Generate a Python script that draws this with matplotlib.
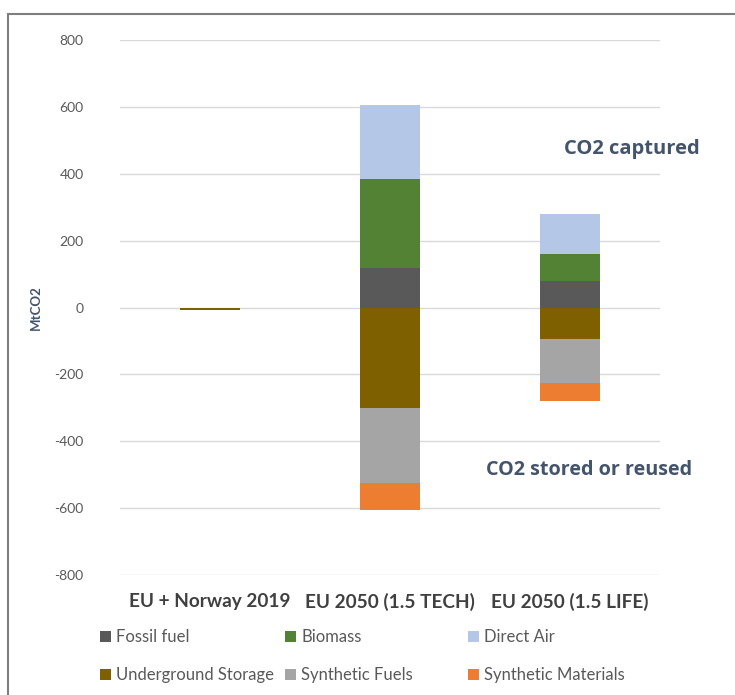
import numpy as np
from matplotlib import pyplot as plt
from matplotlib.patches import Rectangle, Patch

plt.rcParams['font.family'] = ['Lato', 'DejaVu Sans']
plt.rcParams['axes.unicode_minus'] = False

# Data (MtCO2)
scenarios = ["EU + Norway 2019", "EU 2050 (1.5 TECH)", "EU 2050 (1.5 LIFE)"]

# captured (positive)
fossil_fuel = [0, 118, 79]
biomass = [0, 265, 82]
direct_air = [0, 222, 118]

# stored or reused (negative)
underground_storage = [-8, -300, -94]
synthetic_fuels = [0, -224, -133]
synthetic_materials = [0, -83, -54]

colors = {
    "Fossil fuel": "#595959",
    "Biomass": "#548235",
    "Direct Air": "#B4C7E7",
    "Underground Storage": "#7F6000",
    "Synthetic Fuels": "#A5A5A5",
    "Synthetic Materials": "#ED7D31",
}

x = np.arange(len(scenarios))
bar_width = 0.333

fig = plt.figure(figsize=(7.35, 6.95), dpi=100)
ax = fig.add_axes([0.163, 0.1727, 0.735, 0.7697])

# positive stack
bottom = np.zeros(len(x))
for name, vals in [("Fossil fuel", fossil_fuel), ("Biomass", biomass), ("Direct Air", direct_air)]:
    ax.bar(x, vals, bar_width, bottom=bottom, color=colors[name], zorder=2)
    bottom += np.array(vals)

# negative stack
bottom = np.zeros(len(x))
for name, vals in [("Underground Storage", underground_storage),
                   ("Synthetic Fuels", synthetic_fuels),
                   ("Synthetic Materials", synthetic_materials)]:
    ax.bar(x, vals, bar_width, bottom=bottom, color=colors[name], zorder=2)
    bottom += np.array(vals)

ax.set_xlim(-0.5, 2.5)
ax.set_ylim(-800, 800)
ax.set_yticks(np.arange(-800, 801, 200))
ax.yaxis.grid(True, color="#D9D9D9", linewidth=1)
ax.set_axisbelow(True)
for s in ax.spines.values():
    s.set_visible(False)
ax.tick_params(axis="y", length=0, pad=26, labelsize=10, labelcolor="#595959")
ax.tick_params(axis="x", length=0, pad=13)
ax.set_xticks(x)
ax.set_xticklabels(scenarios, fontsize=13.7, fontweight="bold", color="#404040")
ax.set_ylabel("MtCO2", fontsize=9.5, fontweight="bold", color="#44546A")
ax.yaxis.set_label_coords(-0.145, 0.5)

# annotations
ax.text(2.72, 475, "CO2 captured", ha="right", va="center", fontsize=14.5,
        fontweight="bold", color="#44546A", family=["Open Sans", "DejaVu Sans"],
        clip_on=False)
ax.text(2.68, -485, "CO2 stored or reused", ha="right", va="center", fontsize=14.2,
        fontweight="bold", color="#44546A", family=["Open Sans", "DejaVu Sans"],
        clip_on=False)

# legend in three columns of two rows
legend_cols = [["Fossil fuel", "Underground Storage"],
               ["Biomass", "Synthetic Fuels"],
               ["Direct Air", "Synthetic Materials"]]
col_x = [0.125, 0.377, 0.625]
for cx, names in zip(col_x, legend_cols):
    handles = [Patch(facecolor=colors[n], label=n) for n in names]
    leg = fig.legend(handles=handles, loc="upper left", bbox_to_anchor=(cx, 0.107),
                     frameon=False, fontsize=12, handlelength=0.65, handleheight=0.65,
                     handletextpad=0.3, labelspacing=1.35, borderpad=0)
    for t in leg.get_texts():
        t.set_color("#595959")

# outer frame
fig.patches.append(Rectangle((8 / 735, -0.05), 1.1, 1 - 14 / 695 + 0.05,
                             transform=fig.transFigure, fill=False,
                             edgecolor="#7F7F7F", linewidth=1.5))

plt.savefig("out.png", dpi=100)
